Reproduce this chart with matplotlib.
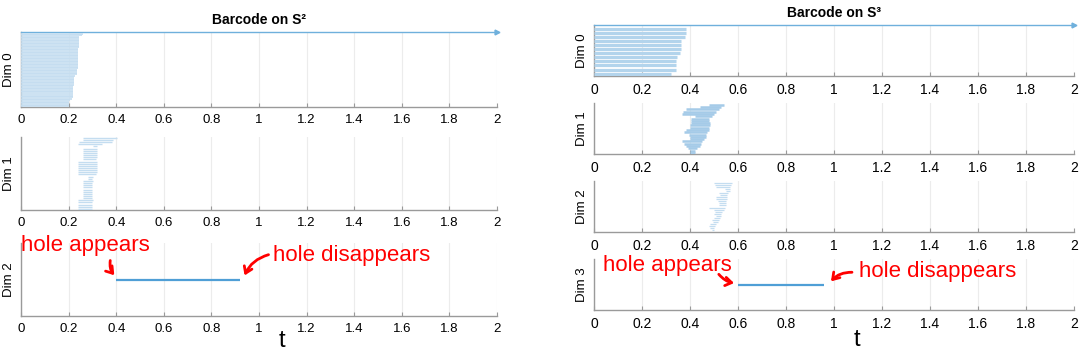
import numpy as np
import matplotlib
matplotlib.use("Agg")
import matplotlib.pyplot as plt

plt.rcParams['font.family'] = ['Liberation Sans', 'DejaVu Sans']

# ---------------- data ----------------
tick_vals = [0, 0.2, 0.4, 0.6, 0.8, 1.0, 1.2, 1.4, 1.6, 1.8, 2.0]
tick_labels = ['0', '0.2', '0.4', '0.6', '0.8', '1', '1.2', '1.4', '1.6', '1.8', '2']

# S^2 barcode (rows listed top to bottom)
s2_dim0_death = [np.inf, 0.26, 0.255, 0.245, 0.245, 0.244, 0.243, 0.243, 0.242, 0.242,
                 0.242, 0.241, 0.241, 0.241, 0.24, 0.24, 0.24, 0.24, 0.24, 0.239,
                 0.239, 0.239, 0.238, 0.238, 0.238, 0.237, 0.237, 0.236, 0.236, 0.225,
                 0.224, 0.223, 0.222, 0.222, 0.221, 0.221, 0.22, 0.22, 0.22, 0.219,
                 0.219, 0.218, 0.218, 0.217, 0.216, 0.205, 0.203, 0.202, 0.201, 0.2]
s2_dim1_birth = [0.262, 0.262, 0.245, 0.241, 0.304, 0.262, 0.262, 0.262, 0.262, 0.262,
                 0.262, 0.241, 0.241, 0.241, 0.241, 0.241, 0.241, 0.241, 0.283, 0.283,
                 0.262, 0.262, 0.262, 0.262, 0.262, 0.262, 0.262, 0.262, 0.262, 0.241,
                 0.241, 0.241, 0.241, 0.241]
s2_dim1_death = [0.403, 0.386, 0.383, 0.340, 0.321, 0.321, 0.320, 0.320, 0.318, 0.318,
                 0.317, 0.321, 0.320, 0.320, 0.319, 0.319, 0.318, 0.317, 0.301, 0.300,
                 0.301, 0.300, 0.300, 0.299, 0.299, 0.298, 0.298, 0.298, 0.297, 0.301,
                 0.300, 0.300, 0.299, 0.298]
s2_dim2_birth = [0.40]
s2_dim2_death = [0.92]

# S^3 barcode (rows listed top to bottom)
s3_dim0_death = [np.inf, 0.384, 0.384, 0.38, 0.363, 0.363, 0.362, 0.36, 0.345, 0.342,
                 0.342, 0.34, 0.321]
s3_dim1_birth = [0.48, 0.44, 0.385, 0.37, 0.365, 0.42, 0.405, 0.405, 0.405, 0.40,
                 0.40, 0.385, 0.375, 0.395, 0.40, 0.40, 0.365, 0.375, 0.385, 0.39,
                 0.40, 0.40]
s3_dim1_death = [0.54, 0.53, 0.52, 0.51, 0.50, 0.49, 0.48, 0.48, 0.485, 0.485,
                 0.48, 0.48, 0.47, 0.465, 0.465, 0.46, 0.45, 0.445, 0.44, 0.43,
                 0.42, 0.42]
s3_dim2_birth = [0.50, 0.505, 0.51, 0.545, 0.55, 0.52, 0.525, 0.51, 0.51, 0.515,
                 0.52, 0.52, 0.48, 0.50, 0.505, 0.50, 0.51, 0.50, 0.49, 0.495,
                 0.485, 0.48, 0.485, 0.49]
s3_dim2_death = [0.575, 0.57, 0.565, 0.565, 0.565, 0.56, 0.555, 0.555, 0.553, 0.55,
                 0.55, 0.548, 0.545, 0.54, 0.535, 0.53, 0.53, 0.525, 0.52, 0.515,
                 0.51, 0.505, 0.50, 0.50]
s3_dim3_birth = [0.60]
s3_dim3_death = [0.96]

XMAX = 2.0
W, H = 1084, 355

fig = plt.figure(figsize=(W / 100, H / 100), dpi=100)

GRID = '#ececec'
SPINE = '#9a9a9a'
PALE = '#c4ddf0'
LIGHT = '#b3d4ec'
MID = '#a5cbe8'
DARK = '#4f9fd6'
INF = '#6fb0dc'


def px_rect(x0, x1, ytop, ybot):
    return [x0 / W, 1 - ybot / H, (x1 - x0) / W, (ybot - ytop) / H]


def base_axes(rect, label, fs):
    ax = fig.add_axes(rect)
    ax.set_xlim(0, XMAX)
    ax.set_xticks(tick_vals)
    ax.set_xticklabels(tick_labels)
    ax.set_yticks([])
    for s in ['top', 'right']:
        ax.spines[s].set_visible(False)
    for s in ['left', 'bottom']:
        ax.spines[s].set_color(SPINE)
        ax.spines[s].set_linewidth(1.0)
    ax.tick_params(axis='x', direction='in', length=3, color=SPINE,
                   labelsize=fs, pad=5, labelcolor='black')
    ax.grid(axis='x', color=GRID, linewidth=0.8)
    ax.set_axisbelow(True)
    ax.text(-12 / (rect[2] * W), 0.5, label, rotation=90, transform=ax.transAxes,
            ha='center', va='center', fontsize=9.5)
    return ax


def draw_bars(ax, births, deaths, color, lw, top_pad=0.7, bot_pad=0.5):
    n = len(deaths)
    ys = np.arange(n, 0, -1)
    for y, b, d in zip(ys, births, deaths):
        if np.isinf(d):
            ax.plot([b, XMAX], [y, y], color=INF, lw=1.0, clip_on=False, zorder=3)
            ax.plot([XMAX], [y], marker='>', color=INF, markersize=3.5,
                    clip_on=False, zorder=3)
        else:
            ax.plot([b, d], [y, y], color=color, lw=lw, solid_capstyle='butt', zorder=3)
    ax.set_ylim(1 - bot_pad, n + top_pad)


# ---------------- left: S^2 ----------------
lx0, lx1 = 21, 497
ax = base_axes(px_rect(lx0, lx1, 32, 107), 'Dim 0', 9.5)
draw_bars(ax, [0] * len(s2_dim0_death), s2_dim0_death, PALE, 1.2, top_pad=0.0, bot_pad=0.6)

ax = base_axes(px_rect(lx0, lx1, 137, 210), 'Dim 1', 9.5)
draw_bars(ax, s2_dim1_birth, s2_dim1_death, PALE, 1.0, top_pad=0.4, bot_pad=0.5)

ax = base_axes(px_rect(lx0, lx1, 243, 316), 'Dim 2', 9.5)
ax.plot([s2_dim2_birth[0], s2_dim2_death[0]], [1, 1], color=DARK, lw=1.6,
        solid_capstyle='butt')
ax.set_ylim(0, 2)
ax.text(0.0, 0.97, 'hole appears', color='red', fontsize=16,
        transform=ax.get_xaxis_transform(), ha='left', va='center')
ax.text(1.057, 0.83, 'hole disappears', color='red', fontsize=16,
        transform=ax.get_xaxis_transform(), ha='left', va='center')
arrow = dict(arrowstyle='->,head_length=0.45,head_width=0.3', color='red', lw=2.0,
             shrinkA=0, shrinkB=2)
ax.annotate('', xy=(0.40, 0.53), xytext=(0.375, 0.76),
            xycoords=('data', 'axes fraction'), textcoords=('data', 'axes fraction'),
            arrowprops=dict(arrow, connectionstyle='arc3,rad=0.25'))
ax.annotate('', xy=(0.935, 0.52), xytext=(1.04, 0.84),
            xycoords=('data', 'axes fraction'), textcoords=('data', 'axes fraction'),
            arrowprops=dict(arrow, connectionstyle='arc3,rad=0.25'))

fig.text(259 / W, 1 - 20 / H, 'Barcode on S²', ha='center', va='center',
         fontsize=10, fontweight='bold')
fig.text(282 / W, 1 - 341 / H, 't', ha='center', va='center', fontsize=17)

# ---------------- right: S^3 ----------------
rx0, rx1 = 594, 1074
ax = base_axes(px_rect(rx0, rx1, 25, 76), 'Dim 0', 10)
draw_bars(ax, [0] * len(s3_dim0_death), s3_dim0_death, LIGHT, 2.3, top_pad=0.0, bot_pad=0.6)

ax = base_axes(px_rect(rx0, rx1, 103, 154), 'Dim 1', 10)
draw_bars(ax, s3_dim1_birth, s3_dim1_death, MID, 1.8, top_pad=0.8, bot_pad=0.5)

ax = base_axes(px_rect(rx0, rx1, 181, 232), 'Dim 2', 10)
draw_bars(ax, s3_dim2_birth, s3_dim2_death, PALE, 0.9, top_pad=0.8, bot_pad=0.8)

ax = base_axes(px_rect(rx0, rx1, 259, 310), 'Dim 3', 10)
ax.plot([s3_dim3_birth[0], s3_dim3_death[0]], [1, 1], color=DARK, lw=1.6,
        solid_capstyle='butt')
ax.set_ylim(0, 2)
ax.text(0.037, 0.865, 'hole appears', color='red', fontsize=16,
        transform=ax.get_xaxis_transform(), ha='left', va='center')
ax.text(1.103, 0.755, 'hole disappears', color='red', fontsize=16,
        transform=ax.get_xaxis_transform(), ha='left', va='center')
ax.annotate('', xy=(0.595, 0.52), xytext=(0.52, 0.70),
            xycoords=('data', 'axes fraction'), textcoords=('data', 'axes fraction'),
            arrowprops=dict(arrow, connectionstyle='arc3,rad=0.2'))
ax.annotate('', xy=(0.98, 0.52), xytext=(1.075, 0.74),
            xycoords=('data', 'axes fraction'), textcoords=('data', 'axes fraction'),
            arrowprops=dict(arrow, connectionstyle='arc3,rad=0.25'))

fig.text(834 / W, 1 - 13 / H, 'Barcode on S³', ha='center', va='center',
         fontsize=10, fontweight='bold')
fig.text(857 / W, 1 - 340 / H, 't', ha='center', va='center', fontsize=17)

fig.savefig('out.png', dpi=100, facecolor='white')
